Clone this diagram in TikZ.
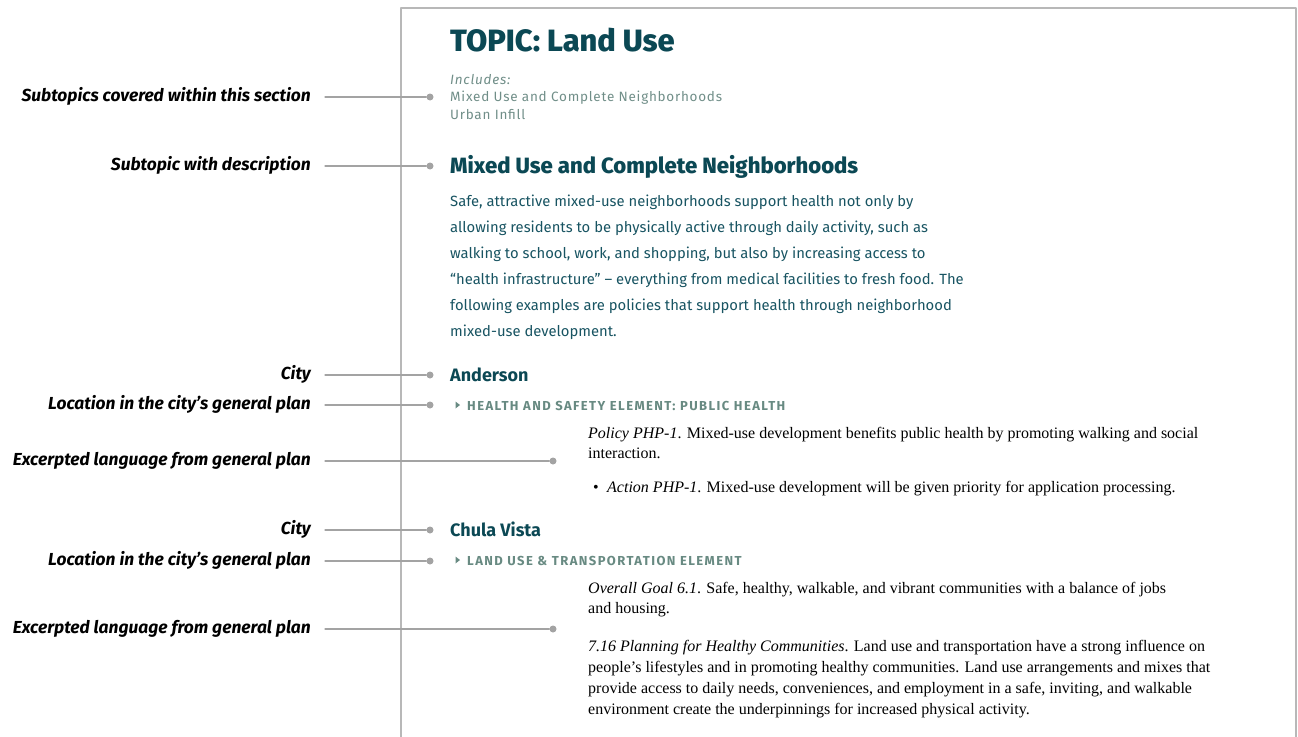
\documentclass[tikz,border=0pt]{standalone}
\usepackage{fontspec}
\setmainfont{Fira Sans}
\newfontfamily\heavysans{Fira Sans ExtraBold}
\newfontfamily\plainserif{Liberation Serif}
\definecolor{topicteal}{RGB}{11,72,84}
\definecolor{bodyteal}{RGB}{24,84,98}
\definecolor{softteal}{RGB}{112,142,136}
\definecolor{capsteal}{RGB}{104,138,130}
\definecolor{guidegray}{RGB}{163,163,163}
\definecolor{framegray}{RGB}{184,184,184}

\begin{document}
\begin{tikzpicture}[line cap=round,line join=round,x=1pt,y=-1pt,
  guide/.style={draw=guidegray,line width=1.3pt},
  dot/.style={circle,fill=guidegray,inner sep=0pt,minimum size=7pt},
  lbl/.style={anchor=east,inner xsep=14pt,inner ysep=0pt,text height=12pt,text depth=4pt,
    font=\fontsize{17.4}{17.4}\selectfont\bfseries\itshape},
  txt/.style={anchor=base west,inner sep=0pt,align=left},
  city/.style={txt,text=topicteal,font=\fontsize{18}{18}\selectfont\bfseries},
  plan/.style={txt,text=capsteal,font=\fontsize{13}{13}\selectfont\bfseries\addfontfeatures{LetterSpace=11}},
  excerpt/.style={txt,font=\fontsize{16}{20}\selectfont\plainserif}]
\useasboundingbox (0,0) rectangle (1298,736);
\draw [framegray,line width=2.4pt,line cap=butt] (401,740)--(401,8)--(1296,8)--(1296,740);

% right column (multi-line nodes sit on their last baseline)
\node [txt,text=topicteal,font=\fontsize{30.8}{30.8}\selectfont\heavysans] (topic) at (450,51) {TOPIC: Land Use};
\node [txt,text=softteal,font=\fontsize{13.5}{17.5}\selectfont\addfontfeatures{LetterSpace=5.5}] (incl) at (450,119)
  {\textit{Includes:}\\Mixed Use and Complete Neighborhoods\\Urban Infill};
\node [txt,text=topicteal,font=\fontsize{22.1}{22.1}\selectfont\heavysans] (sub) at (450,173) {Mixed Use and Complete Neighborhoods};
\node [txt,text=bodyteal,font=\fontsize{14.8}{26}\selectfont] (desc) at (450,336)
  {Safe, attractive mixed-use neighborhoods support health not only by\\
   allowing residents to be physically active through daily activity, such as\\
   walking to school, work, and shopping, but also by increasing access to\\
   “health infrastructure” – everything from medical facilities to fresh food. The\\
   following examples are policies that support health through neighborhood\\
   mixed-use development.};

\node [city] (anderson) at (450,381) {Anderson};
\fill [capsteal] (455.5,401.5)--(460,405)--(455.5,408.5)--cycle;
\node [plan] (planA) at (467,410) {HEALTH AND SAFETY ELEMENT: PUBLIC HEALTH};
\node [excerpt] (policyA) at (588,458)
  {\textit{Policy PHP-1}. Mixed-use development benefits public health by promoting walking and social\\
   interaction.};
\node [excerpt] (bulletA) at (593,492) {•};
\node [excerpt] (actionA) at (607,492) {\textit{Action PHP-1}. Mixed-use development will be given priority for application processing.};

\node [city] (chula) at (450,536) {Chula Vista};
\fill [capsteal] (455.5,556.5)--(460,560)--(455.5,563.5)--cycle;
\node [plan] (planB) at (467,565) {LAND USE \& TRANSPORTATION ELEMENT};
\node [excerpt] (goalB) at (588,613)
  {\textit{Overall Goal 6.1}. Safe, healthy, walkable, and vibrant communities with a balance of jobs\\
   and housing.};
\node [excerpt,font=\fontsize{16}{21}\selectfont\plainserif] (planningB) at (588,714)
  {\textit{7.16 Planning for Healthy Communities}. Land use and transportation have a strong influence on\\
   people’s lifestyles and in promoting healthy communities. Land use arrangements and mixes that\\
   provide access to daily needs, conveniences, and employment in a safe, inviting, and walkable\\
   environment create the underpinnings for increased physical activity.};

% left labels with connectors
\node [lbl] (l1) at (325,97) {Subtopics covered within this section};
\node [lbl] (l2) at (325,166) {Subtopic with description};
\node [lbl] (l3) at (325,375) {City};
\node [lbl] (l4) at (325,405) {Location in the city’s general plan};
\node [lbl] (l5) at (325,461) {Excerpted language from general plan};
\node [lbl] (l6) at (325,530) {City};
\node [lbl] (l7) at (325,561) {Location in the city’s general plan};
\node [lbl] (l8) at (325,629) {Excerpted language from general plan};
\node [dot] (d1) at (430,97) {};
\node [dot] (d2) at (430,166) {};
\node [dot] (d3) at (430,375) {};
\node [dot] (d4) at (430,405) {};
\node [dot] (d5) at (553,461) {};
\node [dot] (d6) at (430,530) {};
\node [dot] (d7) at (430,561) {};
\node [dot] (d8) at (553,629) {};
\foreach \i in {1,...,8}
  \draw [guide] (l\i) -- (d\i);
\end{tikzpicture}
\end{document}
